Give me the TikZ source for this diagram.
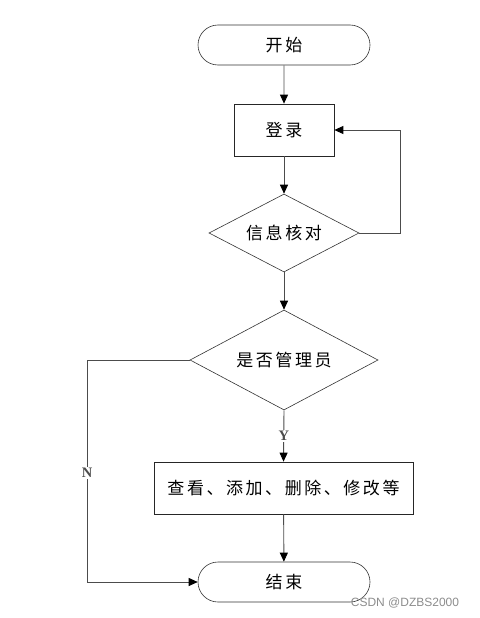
\documentclass[tikz,border=0pt]{standalone}
\usepackage{fontspec}
\setmainfont{Liberation Serif}
\newfontfamily\cjk[LetterSpace=15]{Noto Sans CJK SC}
\newfontfamily\wmfont{Liberation Sans}
\usepackage{tikz}
\usetikzlibrary{positioning, arrows.meta, shapes.geometric, shapes.misc}

\begin{document}
\begin{tikzpicture}[x=1pt, y=-1pt,
      arr/.style={-{Triangle[length=9pt, width=8pt, color=black]}, black!70,
          line width=0.9pt},
      lbl/.style={fill=white, font=\fontsize{14.5}{16}\selectfont\bfseries,
          inner sep=1.5pt},
      term/.style={rounded rectangle, draw=black!80, line width=0.6pt,
          minimum width=172pt, minimum height=40pt, inner sep=0pt,
          font=\cjk\fontsize{17}{20}\selectfont},
      procbox/.style={rectangle, draw=black!85, line width=0.7pt,
          minimum height=52pt, inner sep=0pt,
          font=\cjk\fontsize{17}{20}\selectfont},
      decide/.style={diamond, draw=black!80, line width=0.6pt, inner sep=0pt,
          aspect=1.9, font=\cjk\fontsize{17}{20}\selectfont},
    ]
    \useasboundingbox (0,0) rectangle (479,618);

    %% ── NODES ───────────────────────────────────────────────────────────────
    \node[term] at (284, 45) (start) {开始};
    \node[procbox, minimum width=100pt] at (284, 130) (login) {登录};
    \node[decide, minimum width=150pt, minimum height=78pt] at (284, 233) (check)
    {信息核对};
    \node[decide, minimum width=188pt, minimum height=100pt] at (284, 360) (admin)
    {是否管理员};
    \node[procbox, minimum width=259pt] at (283.5, 488) (ops)
    {查看、添加、删除、修改等};
    \node[term] at (284, 582) (stop) {结束};

    \coordinate (nbend) at (87, 360);
    \coordinate (nlow)  at (87, 582);

    %% ── ARROWS ──────────────────────────────────────────────────────────────
    \draw[arr] (start) -- (login);
    \draw[arr] (login) -- (check);
    \draw[arr] (check.east) -- ++(41,0) |- (login.east);
    \draw[arr] (check) -- (admin);
    \draw[arr] (admin.south) -- node[lbl]{Y} (ops.north);
    \draw[arr] (ops) -- (stop);
    \draw[arr] (admin.west) -- (nbend) -- node[lbl, pos=0.51]{N} (nlow) -- (stop.west);

    %% ── WATERMARK ───────────────────────────────────────────────────────────
    \node[text=black!45, font=\wmfont\fontsize{12}{14}\selectfont, inner sep=0pt]
    at (405, 603) (mark) {CSDN @DZBS2000};
  \end{tikzpicture}
\end{document}
